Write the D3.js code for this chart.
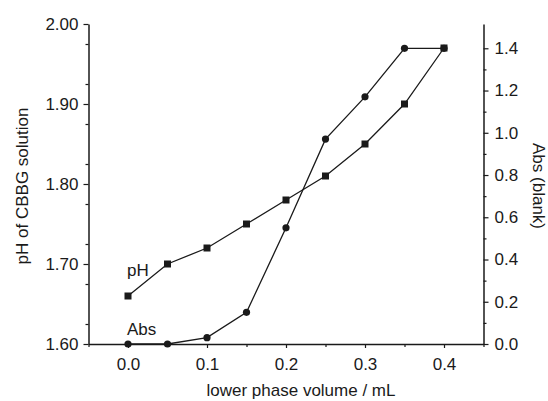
<!DOCTYPE html>
<html>
<head>
<meta charset="utf-8">
<script src="https://cdn.jsdelivr.net/npm/d3@7"></script>
<style>
  html, body { margin: 0; padding: 0; background: #fff; }
  svg { display: block; }
  text { font-family: "Liberation Sans", Arial, Helvetica, sans-serif; fill: #1a1a1a; }
</style>
</head>
<body>
<svg id="chart" width="548" height="401"></svg>
<script>
// Lower phase volume (mL)
const volume = [0.0, 0.05, 0.10, 0.15, 0.20, 0.25, 0.30, 0.35, 0.40];
// pH of CBBG solution (left axis)
const phValues = [1.66, 1.70, 1.72, 1.75, 1.78, 1.81, 1.85, 1.90, 1.97];
// Absorbance against blank (right axis)
const absValues = [0.00, 0.00, 0.03, 0.15, 0.55, 0.97, 1.17, 1.40, 1.40];

const xTicks = [0.0, 0.1, 0.2, 0.3, 0.4];
const xMinorTicks = [-0.05, 0.05, 0.15, 0.25, 0.35, 0.45];
const leftTicks = [1.60, 1.70, 1.80, 1.90, 2.00];
const rightTicks = [0.0, 0.2, 0.4, 0.6, 0.8, 1.0, 1.2, 1.4];

const svg = d3.select("#chart");
const ink = "#1a1a1a";
const plot = { left: 88.5, right: 483.5, top: 24, bottom: 344 };

const x = d3.scaleLinear().domain([-0.05, 0.45]).range([plot.left, plot.right]);
const yL = d3.scaleLinear().domain([1.60, 2.00]).range([plot.bottom, plot.top]);
const yR = d3.scaleLinear().domain([0, 1.515]).range([plot.bottom, plot.top]);

const fontSize = 17;

function styleAxis(g) {
  g.select(".domain").attr("stroke", ink).attr("stroke-width", 1.5);
  g.selectAll(".tick line").attr("stroke", ink).attr("stroke-width", 1.2);
  g.selectAll(".tick text").attr("font-size", fontSize).attr("fill", ink)
    .style("font-family", "'Liberation Sans', Arial, sans-serif");
}

function minorStyle(g) {
  g.select(".domain").remove();
  g.selectAll(".tick line").attr("stroke", ink).attr("stroke-width", 1.2);
}

// Minor ticks (no labels)
svg.append("g").attr("transform", `translate(0,${plot.bottom})`)
  .call(d3.axisBottom(x).tickValues(xMinorTicks).tickSize(3).tickFormat(""))
  .call(minorStyle);
svg.append("g").attr("transform", `translate(${plot.left},0)`)
  .call(d3.axisLeft(yL).tickValues(d3.range(1.625, 2.0, 0.05)).tickSize(3).tickFormat(""))
  .call(minorStyle);
svg.append("g").attr("transform", `translate(${plot.right},0)`)
  .call(d3.axisRight(yR).tickValues(d3.range(0.1, 1.5, 0.2)).tickSize(3).tickFormat(""))
  .call(minorStyle);

// Major axes
svg.append("g").attr("transform", `translate(0,${plot.bottom})`)
  .call(d3.axisBottom(x).tickValues(xTicks).tickSize(4).tickSizeOuter(0).tickPadding(10).tickFormat(d3.format(".1f")))
  .call(styleAxis);
svg.append("g").attr("transform", `translate(${plot.left},0)`)
  .call(d3.axisLeft(yL).tickValues(leftTicks).tickSize(5).tickSizeOuter(0).tickPadding(5).tickFormat(d3.format(".2f")))
  .call(styleAxis);
svg.append("g").attr("transform", `translate(${plot.right},0)`)
  .call(d3.axisRight(yR).tickValues(rightTicks).tickSize(5).tickSizeOuter(0).tickPadding(6).tickFormat(d3.format(".1f")))
  .call(styleAxis);

// Axis titles
svg.append("text")
  .attr("x", 301).attr("y", 396)
  .attr("text-anchor", "middle").attr("font-size", fontSize)
  .text("lower phase volume / mL");
svg.append("text")
  .attr("transform", `translate(28,${(plot.top + plot.bottom) / 2 + 2}) rotate(-90)`)
  .attr("text-anchor", "middle").attr("font-size", fontSize)
  .text("pH of CBBG solution");
svg.append("text")
  .attr("transform", `translate(533,${(plot.top + plot.bottom) / 2 + 2}) rotate(90)`)
  .attr("text-anchor", "middle").attr("font-size", fontSize)
  .text("Abs (blank)");

// Absorbance series: line + circles
const absLine = d3.line().x((d, i) => x(volume[i])).y(d => yR(d));
svg.append("path").datum(absValues)
  .attr("d", absLine).attr("fill", "none").attr("stroke", ink).attr("stroke-width", 1.3);
svg.append("g").selectAll("circle").data(absValues).join("circle")
  .attr("cx", (d, i) => x(volume[i])).attr("cy", d => yR(d)).attr("r", 3.6).attr("fill", ink);

// pH series: line + squares
const phLine = d3.line().x((d, i) => x(volume[i])).y(d => yL(d));
svg.append("path").datum(phValues)
  .attr("d", phLine).attr("fill", "none").attr("stroke", ink).attr("stroke-width", 1.3);
const sq = 7;
svg.append("g").selectAll("rect").data(phValues).join("rect")
  .attr("x", (d, i) => x(volume[i]) - sq / 2).attr("y", d => yL(d) - sq / 2)
  .attr("width", sq).attr("height", sq).attr("fill", ink);

// Series labels
svg.append("text").attr("x", x(0) - 1).attr("y", 276).attr("font-size", fontSize).text("pH");
svg.append("text").attr("x", x(0) - 1).attr("y", 335).attr("font-size", fontSize).text("Abs");
</script>
</body>
</html>
